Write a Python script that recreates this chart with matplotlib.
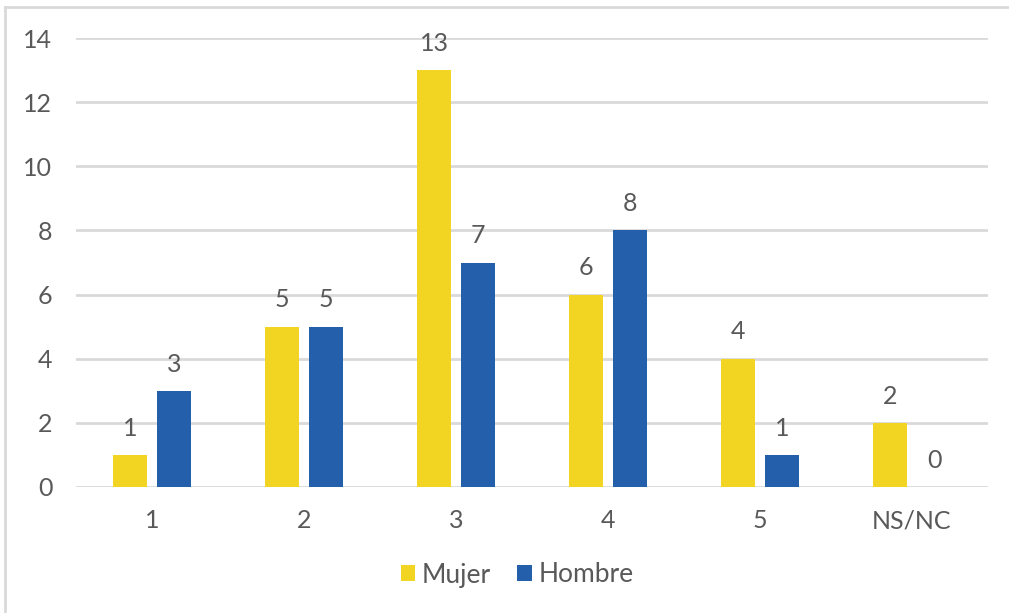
import matplotlib
matplotlib.use("Agg")
import matplotlib.pyplot as plt
import numpy as np
from matplotlib.lines import Line2D

categories = ["1", "2", "3", "4", "5", "NS/NC"]
mujer = [1, 5, 13, 6, 4, 2]
hombre = [3, 5, 7, 8, 1, 0]

yellow = "#F2D423"
blue = "#235FAA"
grey = "#595959"

plt.rcParams['font.family'] = ['Lato', 'DejaVu Sans']

fig = plt.figure(figsize=(10.09, 6.13), dpi=100)
ax = fig.add_axes([76 / 1009, 1 - 487 / 613, 912 / 1009, 449 / 613])

x = np.arange(len(categories))
w = 0.225
off = 0.145
b1 = ax.bar(x - off, mujer, w, color=yellow, label="Mujer", zorder=3)
b2 = ax.bar(x + off, hombre, w, color=blue, label="Hombre", zorder=3)

for bars, vals in ((b1, mujer), (b2, hombre)):
    for r, v in zip(bars, vals):
        ax.annotate(str(v), (r.get_x() + r.get_width() / 2, v), xytext=(0, 11),
                    textcoords="offset points", ha="center", va="bottom",
                    fontsize=18, color=grey)

ax.set_xlim(-0.5, len(categories) - 0.5)
ax.set_ylim(0, 14)
ax.set_yticks(range(0, 15, 2))
ax.set_xticks(x)
ax.set_xticklabels(categories)
ax.grid(axis="y", color="#D9D9D9", linewidth=2, zorder=0)
ax.tick_params(length=0, labelsize=18, labelcolor=grey)
ax.tick_params(axis="y", pad=17)
ax.tick_params(axis="x", pad=16)
for s in ax.spines.values():
    s.set_visible(False)

leg = fig.legend(loc="center", bbox_to_anchor=(517 / 1009, 1 - 575 / 613), ncol=2,
                 frameon=False, fontsize=19, handlelength=0.55, handleheight=0.55,
                 handletextpad=0.25, columnspacing=1.0)
for t in leg.get_texts():
    t.set_color(grey)

fig.add_artist(Line2D([5 / 1009, 1], [1 - 7 / 613, 1 - 7 / 613], transform=fig.transFigure,
                      color="#D9D9D9", linewidth=2))
fig.add_artist(Line2D([5 / 1009, 5 / 1009], [0, 1 - 7 / 613], transform=fig.transFigure,
                      color="#D9D9D9", linewidth=2))

fig.savefig("out.png", dpi=100)
